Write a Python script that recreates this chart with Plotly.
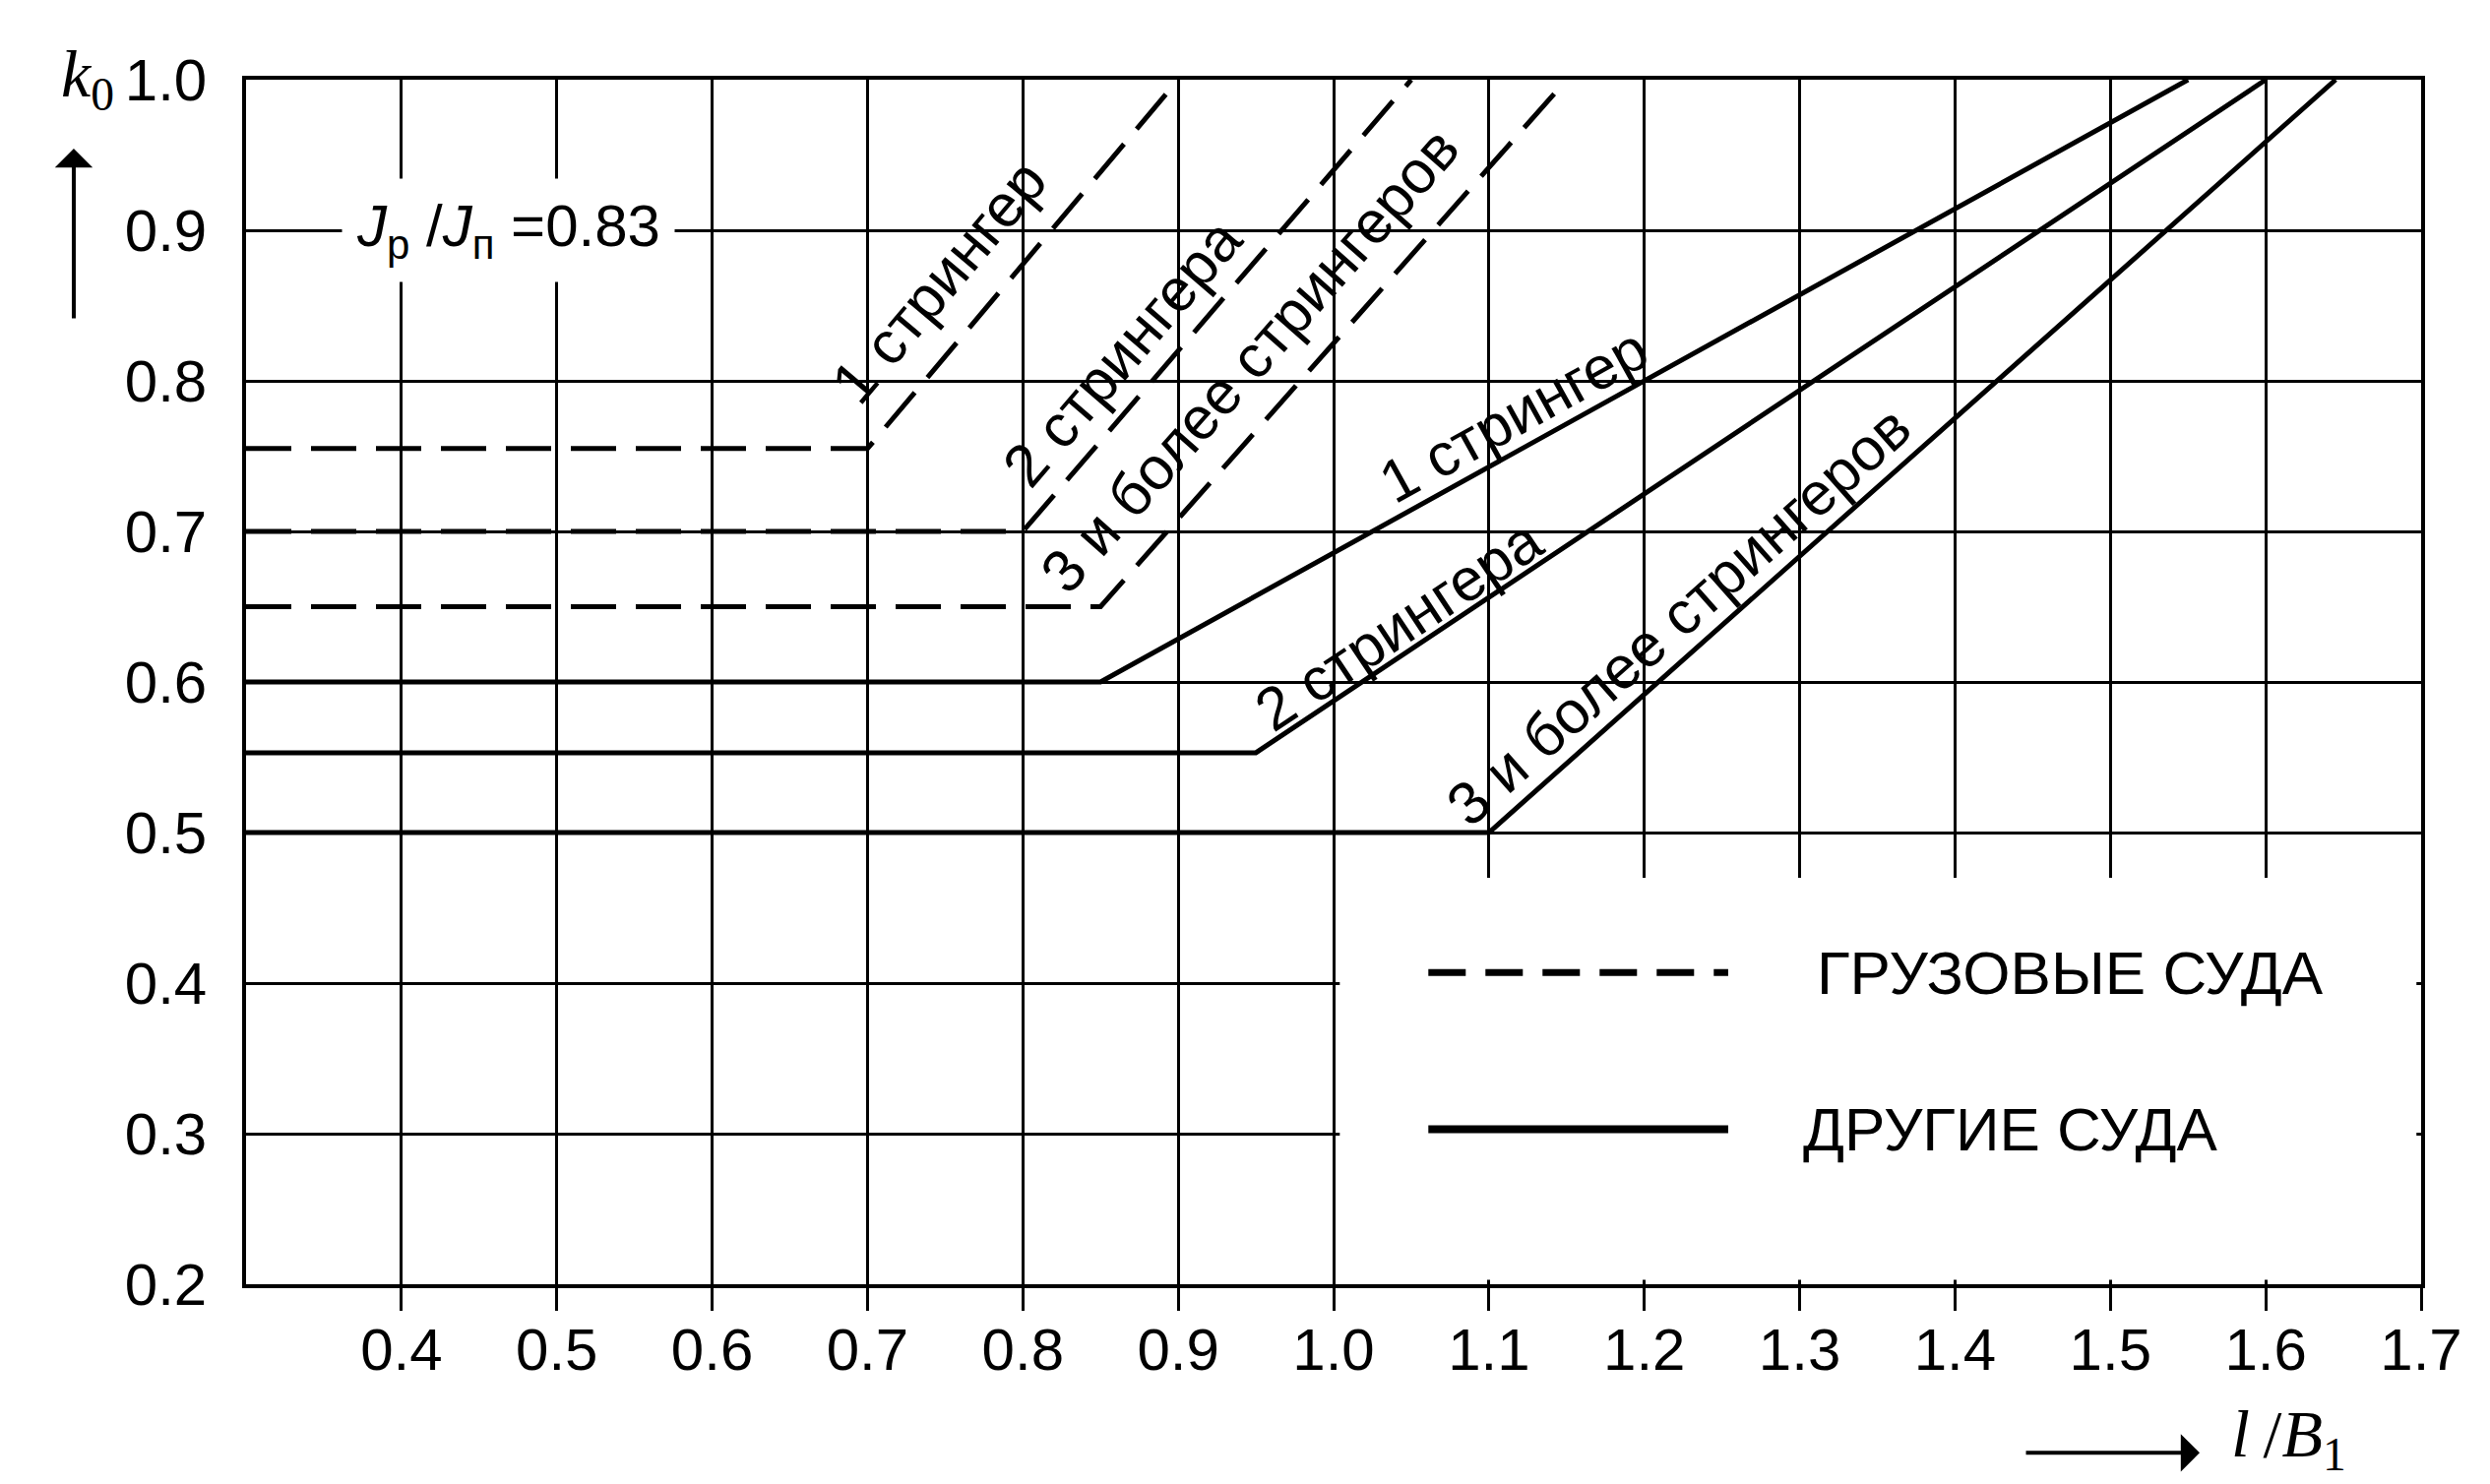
import math
import plotly.graph_objects as go

# ---------------- data ----------------
X_START = 0.3
Y_TOP = 1.0

# cargo ships (dashed): flat level, x where the line starts to rise, x where it reaches 1.0
CARGO_LEVEL = [0.755, 0.70, 0.65]
CARGO_BREAK = [0.70, 0.80, 0.85]
CARGO_TOP_X = [0.90, 1.05, 1.15]

# other ships (solid)
OTHER_LEVEL = [0.60, 0.553, 0.50]
OTHER_BREAK = [0.85, 0.95, 1.10]
OTHER_TOP_X = [1.55, 1.60, 1.645]

CURVE_LABELS = ["1 стрингер", "2 стрингера", "3 и более стрингеров"]
LEGEND_NAMES = ["ГРУЗОВЫЕ СУДА", "ДРУГИЕ СУДА"]

X_TICKS = [0.4, 0.5, 0.6, 0.7, 0.8, 0.9, 1.0, 1.1, 1.2, 1.3, 1.4, 1.5, 1.6, 1.7]
Y_TICKS = [0.2, 0.3, 0.4, 0.5, 0.6, 0.7, 0.8, 0.9, 1.0]

RATIO_TEXT = "<i>J</i><sub>р</sub> /<i>J</i><sub>п</sub> =0.83"
Y_TITLE = "<i>k</i><sub>0</sub>"
X_TITLE = "<i>l</i>\u2009/<i>B</i><sub>1</sub>"

# ---------------- layout / style ----------------
W, H = 2530, 1508
ML, MR, MT, MB = 242, 78, 73, 211
X_RANGE = [0.3, 1.7]
Y_RANGE = [0.2, 1.0]
PLOT_W = W - ML - MR
PLOT_H = H - MT - MB
SX = PLOT_W / (X_RANGE[1] - X_RANGE[0])
SY = PLOT_H / (Y_RANGE[1] - Y_RANGE[0])

SANS = "Liberation Sans, Arial, sans-serif"
SERIF = "Liberation Serif, Times New Roman, serif"
TICK_SIZE = 60
LABEL_SIZE = 61
LEGEND_SIZE = 62
LINE_W = 5
DASH = "46px,20px"

CARGO_LABEL_POS = [(0.746, 0.866), (0.864, 0.819), (0.946, 0.814)]
OTHER_LABEL_POS = [(1.116, 0.777), (1.042, 0.638), (1.222, 0.644)]

LEGEND_KEY_X = (1.061, 1.254)
LEGEND_Y = [0.407, 0.303]
LEGEND_TEXT_X = [1.310, 1.301]
MASK = dict(x0=1.004, x1=1.697, y0=0.203, y1=0.47)

fig = go.Figure()


def add_curve(level, brk, top_x, dash):
    fig.add_trace(go.Scatter(
        x=[X_START, brk, top_x], y=[level, level, Y_TOP],
        mode="lines", line=dict(color="black", width=LINE_W, dash=dash),
        showlegend=False, hoverinfo="skip", cliponaxis=False))


def slope_angle(level, brk, top_x):
    return -math.degrees(math.atan2((Y_TOP - level) * SY, (top_x - brk) * SX))


annotations = []
for i in range(3):
    add_curve(CARGO_LEVEL[i], CARGO_BREAK[i], CARGO_TOP_X[i], DASH)
    add_curve(OTHER_LEVEL[i], OTHER_BREAK[i], OTHER_TOP_X[i], "solid")
    cx, cy = CARGO_LABEL_POS[i]
    annotations.append(dict(x=cx, y=cy, xref="x", yref="y", text=CURVE_LABELS[i],
                            xanchor="center", yanchor="middle", showarrow=False,
                            textangle=slope_angle(CARGO_LEVEL[i], CARGO_BREAK[i], CARGO_TOP_X[i]),
                            font=dict(family=SANS, size=LABEL_SIZE, color="black")))
    ox, oy = OTHER_LABEL_POS[i]
    annotations.append(dict(x=ox, y=oy, xref="x", yref="y", text=CURVE_LABELS[i],
                            xanchor="center", yanchor="middle", showarrow=False,
                            textangle=slope_angle(OTHER_LEVEL[i], OTHER_BREAK[i], OTHER_TOP_X[i]),
                            font=dict(family=SANS, size=LABEL_SIZE, color="black")))

# ratio text
annotations.append(dict(x=0.469, y=0.90, xref="x", yref="y", text=RATIO_TEXT, showarrow=False,
                        xanchor="center", yanchor="middle",
                        font=dict(family=SANS, size=TICK_SIZE, color="black"),
                        bgcolor="white", borderpad=14))

# legend texts
for name, lx, ly in zip(LEGEND_NAMES, LEGEND_TEXT_X, LEGEND_Y):
    annotations.append(dict(x=lx, y=ly, xref="x", yref="y", text=name, showarrow=False,
                            xanchor="left", yanchor="middle",
                            font=dict(family=SANS, size=LEGEND_SIZE, color="black")))

# axis titles with arrows
annotations.append(dict(x=-0.0729, y=1.001, xref="paper", yref="paper", text=Y_TITLE, showarrow=False,
                        xanchor="center", yanchor="middle",
                        font=dict(family=SERIF, size=68, color="black")))
annotations.append(dict(x=-0.0792, y=0.9428, xref="paper", yref="paper", text="", showarrow=True,
                        ax=0, ay=174, arrowhead=1, arrowsize=1.6, arrowwidth=4, arrowcolor="black"))
annotations.append(dict(x=0.8982, y=-0.140, xref="paper", yref="paper", text="", showarrow=True,
                        ax=-178, ay=0, arrowhead=1, arrowsize=1.6, arrowwidth=4, arrowcolor="black"))
annotations.append(dict(x=0.9118, y=-0.128, xref="paper", yref="paper", text=X_TITLE, showarrow=False,
                        xanchor="left", yanchor="middle",
                        font=dict(family=SERIF, size=68, color="black")))

shapes = [
    dict(type="rect", xref="x", yref="y", layer="between", fillcolor="white",
         line=dict(width=0), **MASK),
    dict(type="line", xref="x", yref="y", x0=LEGEND_KEY_X[0], x1=LEGEND_KEY_X[1],
         y0=LEGEND_Y[0], y1=LEGEND_Y[0], line=dict(color="black", width=7, dash="38px,20px")),
    dict(type="line", xref="x", yref="y", x0=LEGEND_KEY_X[0], x1=LEGEND_KEY_X[1],
         y0=LEGEND_Y[1], y1=LEGEND_Y[1], line=dict(color="black", width=8)),
]

fig.update_layout(
    width=W, height=H, autosize=False,
    margin=dict(l=ML, r=MR, t=MT, b=MB, pad=0),
    paper_bgcolor="white", plot_bgcolor="white",
    showlegend=False,
    annotations=annotations, shapes=shapes,
)
fig.update_xaxes(
    range=X_RANGE, tickvals=X_TICKS, ticktext=[f"{v:.1f}" for v in X_TICKS],
    showgrid=True, gridcolor="black", gridwidth=2.5, zeroline=False,
    showline=True, mirror=True, linecolor="black", linewidth=3.5,
    ticks="outside", ticklen=23, tickwidth=2.5, tickcolor="black",
    ticklabelstandoff=-12,
    tickfont=dict(family=SANS, size=TICK_SIZE, color="black"),
)
fig.update_yaxes(
    range=Y_RANGE, tickvals=Y_TICKS, ticktext=[f"{v:.1f}" for v in Y_TICKS],
    showgrid=True, gridcolor="black", gridwidth=2.5, zeroline=False,
    showline=True, mirror=True, linecolor="black", linewidth=3.5,
    ticks="", ticklabelstandoff=24,
    tickfont=dict(family=SANS, size=TICK_SIZE, color="black"),
)

fig.write_html("out.html")
